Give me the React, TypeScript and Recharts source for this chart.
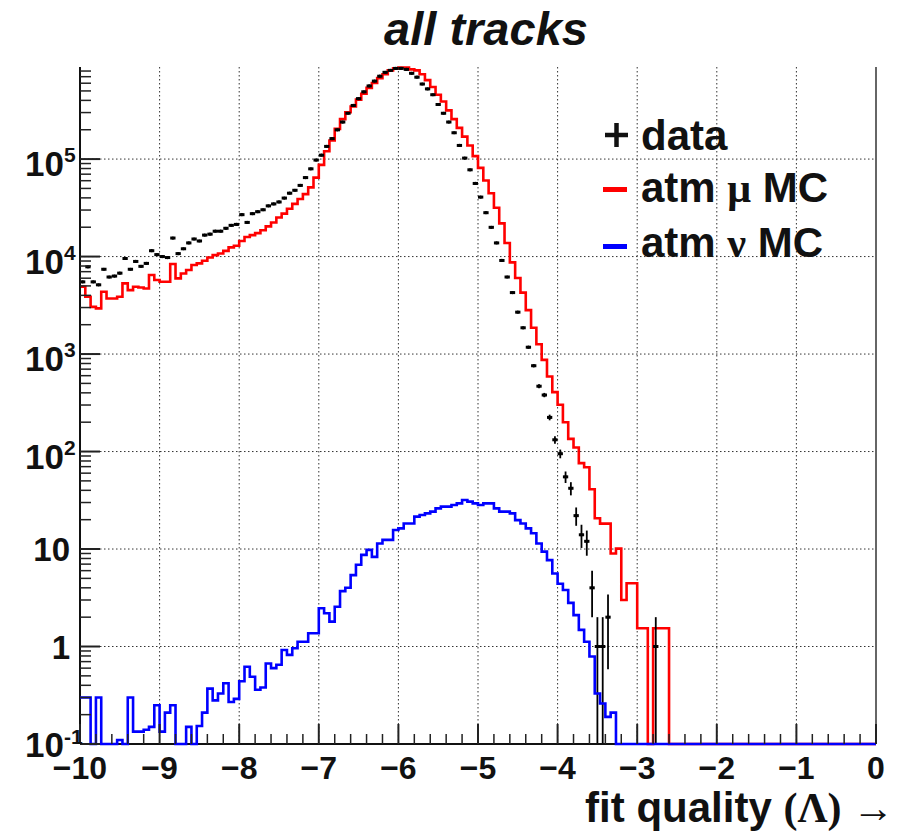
import React from "react";
import {
  ComposedChart,
  Line,
  Scatter,
  ErrorBar,
  XAxis,
  YAxis,
  CartesianGrid,
  ReferenceLine,
} from "recharts";

// binning of the histograms: 150 bins between -10 and 0
const X_MIN = -10;
const X_MAX = 0;
const N_BINS = 150;
const Y_MIN = 0.1;
const Y_MAX = 880000;

const X_MAJOR = [-10, -9, -8, -7, -6, -5, -4, -3, -2, -1, 0];
const X_LABELS = ["−10", "−9", "−8", "−7", "−6", "−5", "−4", "−3", "−2", "−1", "0"];
const Y_DECADES = [0.1, 1, 10, 100, 1000, 10000, 100000];
const Y_EXP_LABELS = ["-1", "", "", "2", "3", "4", "5"];

// data (black points), counts per bin
const dataCounts = [
  5500, 7850, 5500, 5130, 7410, 6170, 6310, 6760, 9550, 7410,
  8910, 7940, 8510, 11480, 10470, 10000, 9770, 15490, 10720, 12020,
  13800, 15140, 14450, 16600, 16980, 18200, 18200, 19500, 20900, 21380,
  26900, 22400, 27540, 28840, 30200, 33110, 34670, 36310, 39810, 44670,
  47860, 53700, 64570, 79430, 97720, 109600, 134900, 162200, 199500, 239900,
  295100, 354800, 416900, 489800, 562300, 631000, 707900, 776200, 812800, 851100,
  851100, 831800, 758600, 691800, 588800, 524800, 457100, 363100, 295100, 239900,
  186200, 138000, 102300, 77620, 56230, 40740, 28180, 19950, 13800, 9120,
  6170, 4270, 2690, 1860, 1175, 759, 468, 380, 224, 132,
  95, 55, 42, 22, 14, 12, 4, 1, 1, 2,
  0, 0, 0, 0, 0, 0, 0, 0, 1, 0,
  0, 0, 0, 0, 0, 0, 0, 0, 0, 0,
  0, 0, 0, 0, 0, 0, 0, 0, 0, 0,
  0, 0, 0, 0, 0, 0, 0, 0, 0, 0,
  0, 0, 0, 0, 0, 0, 0, 0, 0, 0,
];

// atm mu MC (red)
const muCounts = [
  4900, 3870, 3050, 2940, 4360, 3720, 3720, 3870, 5310, 4530,
  4900, 4820, 4710, 6460, 5740, 5520, 5520, 8380, 5970, 6710,
  7280, 8180, 8510, 9060, 9790, 10350, 10760, 11450, 12420, 12910,
  14450, 15850, 16600, 17380, 18620, 20420, 22390, 25120, 27540, 30900,
  34670, 38900, 43650, 51290, 64570, 87100, 120200, 154900, 204200, 257000,
  302000, 346700, 407400, 467700, 537000, 602600, 676100, 741300, 812800, 851100,
  870000, 870000, 831800, 812800, 741300, 645700, 549500, 457100, 389000, 316200,
  257000, 208900, 169800, 138000, 107200, 81280, 60260, 44670, 31620, 21880,
  13800, 8710, 6030, 4270, 2820, 1860, 1260, 871, 589, 407,
  302, 200, 135, 110, 76, 69, 41, 20.7, 18.2, 18.2,
  9.0, 10.1, 3.0, 4.45, 4.45, 1.54, 1.54, 0, 1.54, 1.54,
  1.54, 0, 0, 0, 0, 0, 0, 0, 0, 0,
  0, 0, 0, 0, 0, 0, 0, 0, 0, 0,
  0, 0, 0, 0, 0, 0, 0, 0, 0, 0,
  0, 0, 0, 0, 0, 0, 0, 0, 0, 0,
];

// atm nu MC (blue)
const nuCounts = [
  0.3, 0.3, 0, 0.3, 0, 0, 0, 0.11, 0, 0.3,
  0.134, 0.134, 0.14, 0.15, 0.25, 0.134, 0.21, 0.25, 0, 0,
  0.15, 0, 0.153, 0.21, 0.37, 0.28, 0.33, 0.42, 0.27, 0.29,
  0.44, 0.62, 0.49, 0.36, 0.38, 0.67, 0.6, 0.65, 0.92, 0.82,
  0.96, 1.12, 1.12, 1.37, 1.37, 2.47, 2.19, 1.8, 2.56, 3.7,
  4.0, 5.4, 6.9, 8.7, 9.8, 8.3, 11.4, 12.4, 12.4, 15.7,
  16.3, 18.3, 18.3, 21.5, 22.3, 23.2, 24.2, 26.1, 27.2, 27.2,
  28.3, 29.4, 31.8, 30.6, 29.4, 28.3, 29.4, 29.4, 26.1, 24.2,
  24.2, 23.2, 19.8, 18.3, 16.3, 14.5, 11.4, 9.4, 7.7, 5.6,
  4.4, 3.8, 2.8, 2.1, 1.48, 1.12, 0.79, 0.33, 0.26, 0.19,
  0.21, 0, 0, 0, 0, 0, 0, 0, 0, 0,
  0, 0, 0, 0, 0, 0, 0, 0, 0, 0,
  0, 0, 0, 0, 0, 0, 0, 0, 0, 0,
  0, 0, 0, 0, 0, 0, 0, 0, 0, 0,
  0, 0, 0, 0, 0, 0, 0, 0, 0, 0,
];

const SANS = "'Liberation Sans', Arial, Helvetica, sans-serif";
const SERIF = "'Liberation Serif', 'DejaVu Serif', serif";

const binW = (X_MAX - X_MIN) / N_BINS;
const atFloor = (v: number) => Math.max(v, Y_MIN);

// step rows at bin lower edges, plus the upper edge of the last bin
const histRows = Array.from({ length: N_BINS + 1 }, (_, i) => {
  const k = Math.min(i, N_BINS - 1);
  return { x: X_MIN + i * binW, mu: atFloor(muCounts[k]), nu: atFloor(nuCounts[k]) };
});

const dataPoints = dataCounts
  .map((n, i) => ({ n, i }))
  .filter((d) => d.n > 0)
  .map(({ n, i }) => {
    const err = Math.sqrt(n);
    const lo = Math.max(n - err, Y_MIN);
    return { x: X_MIN + (i + 0.5) * binW, y: n, ex: binW / 2, ey: [n - lo, err] };
  });

const xTicks: number[] = [];
for (let k = 0; k <= 50; k++) xTicks.push(Math.round((X_MIN + k * 0.2) * 1000) / 1000);

const yTicks: number[] = [];
Y_DECADES.forEach((d) => {
  for (let m = 1; m <= 9; m++) {
    if (d * m <= Y_MAX) yTicks.push(d * m);
  }
});

const renderXTick = (props: any) => {
  const { x, y, payload } = props;
  const v = payload.value;
  const major = Math.abs(v - Math.round(v)) < 1e-6;
  const idx = X_MAJOR.indexOf(Math.round(v));
  return (
    <g>
      <line x1={x} x2={x} y1={y} y2={y - (major ? 20 : 10)} stroke="#222" strokeWidth={major ? 2 : 1.5} />
      {major && (
        <text x={x} y={y + 35} textAnchor="middle" fontFamily={SANS} fontSize={32} fontWeight="bold" fill="#111">
          {X_LABELS[idx]}
        </text>
      )}
    </g>
  );
};

const renderYTick = (props: any) => {
  const { x, y, payload } = props;
  const e = Math.log10(payload.value);
  const major = Math.abs(e - Math.round(e)) < 1e-6;
  const idx = Y_DECADES.findIndex((d) => Math.abs(Math.log10(d) - e) < 1e-6);
  const sup = idx >= 0 ? Y_EXP_LABELS[idx] : "";
  const bottom = idx === 0;
  let label = null;
  if (major) {
    if (sup) {
      label = (
        <g fontFamily={SANS} fontWeight="bold" fill="#111">
          <text x={x - 16} y={y + (bottom ? 13 : 17)} textAnchor="end" fontSize={35}>10</text>
          <text x={x - 16} y={y + (bottom ? 0 : 3)} textAnchor="start" fontSize={21}>{sup}</text>
        </g>
      );
    } else {
      label = (
        <text x={x - 10} y={y + 12} textAnchor="end" fontFamily={SANS} fontWeight="bold" fontSize={33} fill="#111">
          {Math.round(e) === 0 ? "1" : "10"}
        </text>
      );
    }
  }
  return (
    <g>
      <line x1={x} x2={x + (major ? 20 : 11)} y1={y} y2={y} stroke="#222" strokeWidth={major ? 2 : 1.5} />
      {label}
    </g>
  );
};

const renderDot = (props: any) => <circle cx={props.cx} cy={props.cy} r={1.6} fill="#000" />;

export default function App() {
  return (
    <div style={{ position: "absolute", left: 0, top: 0, width: 900, height: 835, background: "#fff" }}>
      <ComposedChart
        width={900}
        height={835}
        data={histRows}
        margin={{ top: 67, right: 24, bottom: 0, left: 0 }}
      >
        <CartesianGrid
          horizontalValues={[1, 10, 100, 1000, 10000, 100000]}
          verticalValues={[-9, -8, -7, -6, -5, -4, -3, -2, -1]}
          stroke="#333"
          strokeDasharray="1.5 2.5"
        />
        <XAxis
          dataKey="x"
          type="number"
          domain={[X_MIN, X_MAX]}
          ticks={xTicks}
          interval={0}
          tickSize={0}
          tickMargin={0}
          tickLine={false}
          tick={renderXTick}
          axisLine={{ stroke: "#111", strokeWidth: 2 }}
          height={91}
        />
        <YAxis
          scale="log"
          domain={[Y_MIN, Y_MAX]}
          ticks={yTicks}
          interval={0}
          tickSize={0}
          tickMargin={0}
          tickLine={false}
          tick={renderYTick}
          axisLine={{ stroke: "#111", strokeWidth: 2 }}
          width={80}
        />
        <ReferenceLine x={0} stroke="#666" strokeWidth={2} />
        <Line dataKey="mu" type="stepAfter" stroke="#ff0000" strokeWidth={2.6} dot={false} isAnimationActive={false} />
        <Line
          dataKey="nu"
          type="stepAfter"
          stroke="#0000ff"
          strokeWidth={2.6}
          dot={false}
          isAnimationActive={false}
          zIndex={550}
        />
        <Scatter data={dataPoints} dataKey="y" fill="#000" shape={renderDot} isAnimationActive={false}>
          <ErrorBar dataKey="ex" direction="x" width={0} stroke="#000" strokeWidth={3} />
          <ErrorBar dataKey="ey" direction="y" width={0} stroke="#000" strokeWidth={1.8} />
        </Scatter>
      </ComposedChart>
      <svg width={900} height={835} style={{ position: "absolute", left: 0, top: 0, pointerEvents: "none" }}>
        <text x={486} y={45} textAnchor="middle" fontFamily={SANS} fontSize={47} fontWeight="bold" fontStyle="italic" fill="#111">
          all tracks
        </text>
        <g fontFamily={SANS} fontSize={42} fontWeight="bold" fill="#111">
          <line x1={605} x2={628} y1={135} y2={135} stroke="#111" strokeWidth={4.5} />
          <line x1={616.5} x2={616.5} y1={123} y2={147} stroke="#111" strokeWidth={4.5} />
          <text x={641} y={150}>data</text>
          <rect x={603} y={187} width={24} height={5} fill="#ff0000" />
          <text x={641} y={202}>
            atm <tspan fontFamily={SERIF}>μ</tspan> MC
          </text>
          <rect x={603} y={244} width={24} height={5} fill="#0000ff" />
          <text x={641} y={257}>
            atm <tspan fontFamily={SERIF}>ν</tspan> MC
          </text>
        </g>
        <text x={894} y={822} textAnchor="end" fontFamily={SANS} fontSize={42} fontWeight="bold" fill="#111">
          fit quality <tspan fontFamily={SERIF}>(Λ) →</tspan>
        </text>
      </svg>
    </div>
  );
}
